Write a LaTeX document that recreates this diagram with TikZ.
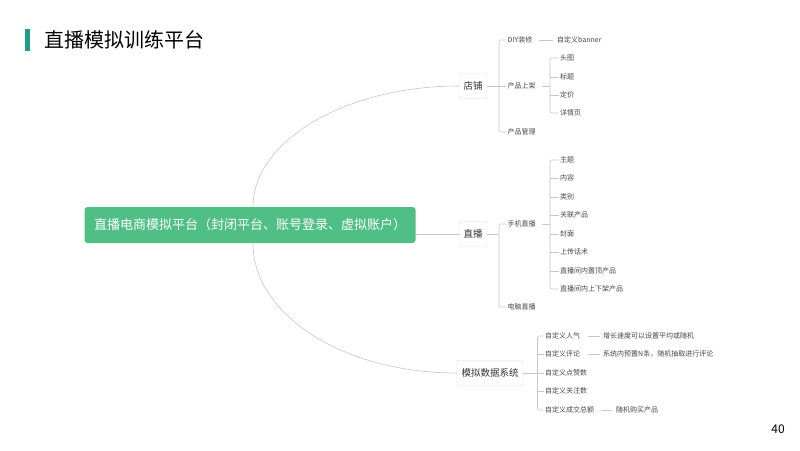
\documentclass[tikz,border=0pt]{standalone}
\usepackage{fontspec}
\setmainfont{Noto Sans CJK SC}
\usepackage{tikz}
\definecolor{teal1}{RGB}{30,155,140}
\definecolor{green1}{RGB}{80,191,134}
\definecolor{txt}{RGB}{70,70,70}

\begin{document}
\begin{tikzpicture}[x=1pt, y=-1pt,
  link/.style={draw=gray!45, line width=0.6pt},
  bracket/.style={link, rounded corners=2pt},
  topic/.style={draw=gray!30, fill=white, rounded corners=2pt, inner xsep=4.5pt,
    minimum height=25pt, font=\fontsize{9.5}{11}\selectfont, text=black!80},
  item/.style={anchor=west, inner sep=1.5pt, font=\fontsize{7}{8}\selectfont, text=txt}]
  \useasboundingbox (0,0) rectangle (800,450);

  % title
  \fill[teal1] (25,29) rectangle (30,51);
  \node[anchor=west, inner sep=0pt, font=\fontsize{20}{22}\selectfont] (title) at (44,40) {直播模拟训练平台};
  \node[font=\fontsize{12}{14}\selectfont] (page) at (778,429) {40};

  % root and main topics
  \node[fill=green1, rounded corners=3pt, minimum width=331pt, minimum height=36pt,
    text=white, font=\fontsize{13}{15}\selectfont] (root) at (250,225) {直播电商模拟平台（封闭平台、账号登录、虚拟账户）};
  \node[topic] (shop) at (473,86) {店铺};
  \node[topic] (live) at (473,234) {直播};
  \node[topic] (sim) at (490,373) {模拟数据系统};

  \draw[link] ([xshift=3pt]root.north) .. controls +(0,-66) and +(-113,0) .. (shop.west);
  \draw[link] (root.east |- live) -- (live.west);
  \draw[link] ([xshift=3pt]root.south) .. controls +(0,72) and +(-113,0) .. (sim.west);

  % shop
  \node[item] (diy) at (506,40) {DIY装修};
  \node[item] (banner) at (555.5,40) {自定义banner};
  \node[item] (up) at (506,86) {产品上架};
  \node[item] (mgr) at (506,132) {产品管理};
  \node[item] (img) at (558.5,58) {头图};
  \node[item] (head) at (558.5,77) {标题};
  \node[item] (price) at (558.5,95) {定价};
  \node[item] (detail) at (558.5,113) {详情页};

  \draw[link] (shop.east) -- (up.west);
  \draw[bracket] (diy.west) -- ++(-7,0) |- (mgr.west);
  \draw[link] ([xshift=5pt]diy.east) -- ([xshift=-3pt]banner.west);
  \draw[link] ([xshift=5pt]up.east) -- ([xshift=-8.5pt]up.east -| img.west);
  \draw[bracket] (img.west) -- ++(-8.5,0) |- (detail.west);
  \draw[link] (head.west) -- ++(-8.5,0);
  \draw[link] (price.west) -- ++(-8.5,0);

  % live
  \node[item] (phone) at (506,224) {手机直播};
  \node[item] (pc) at (506,307) {电脑直播};
  \node[item] (theme) at (558.5,160) {主题};
  \node[item] (content) at (558.5,178) {内容};
  \node[item] (kind) at (558.5,197) {类别};
  \node[item] (rel) at (558.5,215) {关联产品};
  \node[item] (cover) at (558.5,234) {封面};
  \node[item] (script) at (558.5,252) {上传话术};
  \node[item] (pin) at (558.5,271) {直播间内置顶产品};
  \node[item] (shelf) at (558.5,289) {直播间内上下架产品};

  \draw[link] (live.east) -- ++(11,0);
  \draw[bracket] (phone.west) -- ++(-7,0) |- (pc.west);
  \draw[link] ([xshift=5pt]phone.east) -- ([xshift=-8.5pt]phone.east -| theme.west);
  \draw[bracket] (theme.west) -- ++(-8.5,0) |- (shelf.west);
  \foreach \n in {content, kind, rel, cover, script, pin}
    \draw[link] (\n.west) -- ++(-8.5,0);

  % simulated data
  \node[item] (fans) at (543.5,336) {自定义人气};
  \node[item] (fansd) at (601.5,336) {增长速度可以设置平均或随机};
  \node[item] (cmt) at (543.5,354) {自定义评论};
  \node[item] (cmtd) at (601.5,354) {系统内预置N条，随机抽取进行评论};
  \node[item] (likes) at (543.5,373) {自定义点赞数};
  \node[item] (follow) at (543.5,391) {自定义关注数};
  \node[item] (gmv) at (543.5,410) {自定义成交总额};
  \node[item] (gmvd) at (614.5,410) {随机购买产品};

  \draw[link] (sim.east) -- (likes.west);
  \draw[bracket] (fans.west) -- ++(-6,0) |- (gmv.west);
  \draw[link] (cmt.west) -- ++(-6,0);
  \draw[link] (follow.west) -- ++(-6,0);
  \draw[link] ([xshift=6pt]fans.east) -- ([xshift=-2pt]fansd.west);
  \draw[link] ([xshift=6pt]cmt.east) -- ([xshift=-2pt]cmtd.west);
  \draw[link] ([xshift=5pt]gmv.east) -- ([xshift=-3pt]gmvd.west);
\end{tikzpicture}
\end{document}
